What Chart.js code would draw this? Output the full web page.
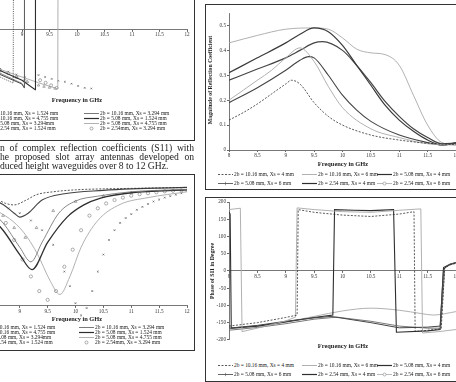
<!DOCTYPE html>
<html><head><meta charset="utf-8">
<script src="https://cdn.jsdelivr.net/npm/chart.js@4.4.0/dist/chart.umd.min.js"></script>
<style>
html,body{margin:0;padding:0;background:#fff;}
body{width:456px;height:382px;position:relative;overflow:hidden;font-family:"Liberation Serif","Times New Roman",serif;color:#222;}
.box{position:absolute;border:1.6px solid #333;box-sizing:border-box;}
canvas{position:absolute;}
.lg{position:absolute;white-space:nowrap;font-size:5.4px;line-height:6px;height:6px;display:flex;align-items:center;}
.lg svg{margin-right:1px;}
.xt{position:absolute;font-weight:bold;font-size:6.4px;white-space:nowrap;transform:translateX(-50%);}
.yt{position:absolute;font-weight:bold;font-size:5.8px;white-space:nowrap;transform:translate(-50%,-50%) rotate(-90deg);}
.cap{position:absolute;left:0;width:194px;font-size:9.6px;line-height:9px;text-align:justify;text-align-last:justify;white-space:nowrap;}
</style></head>
<body>
<div class="box" style="left:-6px;top:-6px;width:201px;height:147px"></div>
<div class="box" style="left:-6px;top:174px;width:201px;height:177px"></div>
<div class="box" style="left:205px;top:4px;width:262px;height:186px"></div>
<div class="box" style="left:205px;top:197px;width:262px;height:185px"></div>

<canvas id="tl" width="262" height="140" style="left:-60px;top:-40px"></canvas>
<canvas id="bl" width="262" height="160" style="left:-60px;top:178px"></canvas>
<canvas id="tr" width="264" height="160" style="left:206px;top:6px"></canvas>
<canvas id="br" width="264" height="148" style="left:206px;top:196px"></canvas>

<div class="xt" style="left:77px;top:96px">Frequency in GHz</div>
<div class="xt" style="left:77px;top:315px">Frequency in GHz</div>
<div class="xt" style="left:343px;top:160px">Frequency in GHz</div>
<div class="xt" style="left:343px;top:342px">Frequency in GHz</div>
<div class="yt" style="left:210px;top:80px">Magnitude of Reflection Coefficient</div>
<div class="yt" style="left:212px;top:271px">Phase of S11 in Degree</div>

<div class="cap" style="top:143px">n of complex reflection coefficients (S11) with</div>
<div class="cap" style="top:152px">he proposed slot array antennas developed on</div>
<div class="cap" style="top:161px;text-align:left;text-align-last:left">duced height waveguides over 8 to 12 GHz.</div>

<div id="legends"></div>

<script>
// ---------- DATA ----------
// Top-right: magnitude of reflection coefficient vs frequency (GHz)
const trLabels = ["2b = 10.16 mm, Xs = 4 mm","2b = 10.16 mm, Xs = 6 mm","2b = 5.08 mm, Xs = 4 mm","2b = 5.08 mm, Xs = 6 mm","2b = 2.54 mm, Xs = 4 mm","2b = 2.54 mm, Xs = 6 mm"];
const trF_1016_4 = [8,8.25,8.5,8.75,9,9.1,9.25,9.5,9.75,10,10.5,11,11.5,12];
const trV_1016_4 = [0.12,0.15,0.185,0.225,0.265,0.28,0.265,0.19,0.135,0.1,0.06,0.04,0.027,0.022];
const trF_1016_6 = [8,8.25,8.5,8.75,9,9.25,9.5,9.75,10,10.5,11,11.5,12];
const trV_1016_6 = [0.2,0.24,0.28,0.32,0.37,0.41,0.355,0.255,0.17,0.085,0.05,0.025,0.02];
const trF_508_4 = [8,8.5,9,9.25,9.4,9.5,9.75,10,10.25,10.5,11,11.5,11.75,12];
const trV_508_4 = [0.19,0.25,0.32,0.36,0.375,0.37,0.3,0.22,0.16,0.115,0.06,0.03,0.02,0.028];
const trF_508_6 = [8,8.5,9,9.25,9.5,9.75,10,10.25,10.5,10.75,11,11.25,11.5,11.75,12];
const trV_508_6 = [0.31,0.37,0.43,0.465,0.49,0.475,0.42,0.34,0.26,0.18,0.12,0.075,0.04,0.02,0.03];
const trF_254_4 = [8,8.5,9,9.25,9.5,9.65,10,10.25,10.5,10.75,11,11.25,11.5,11.75,12];
const trV_254_4 = [0.28,0.325,0.37,0.4,0.43,0.435,0.4,0.34,0.27,0.195,0.135,0.085,0.05,0.025,0.028];
const trF_254_6 = [8,8.5,9,9.5,9.75,10,10.25,10.5,10.75,11,11.25,11.5,11.75,12];
const trV_254_6 = [0.43,0.46,0.485,0.49,0.485,0.45,0.405,0.39,0.383,0.34,0.22,0.1,0.03,0.02];
const trYTicks = [0,0.1,0.2,0.3,0.4,0.5];

// Bottom-right: phase of S11 (degrees)
const brF_1016_4 = [8,8.5,9,9.2,9.22,9.5,10,10.5,11,11.26,11.28,11.5,11.74,11.8,11.9,12];
const brV_1016_4 = [-160,-150,-135,-128,178,170,162,158,165,172,-176,-172,-168,8,18,22];
const brF_1016_6 = [8,8.2,8.23,8.5,9,9.17,9.2,9.5,10,10.5,11,11.38,11.41,11.7,12];
const brV_1016_6 = [178,182,-176,-166,-145,-134,183,178,172,170,176,180,-180,-176,-170];
const brF_508_4 = [8,8.5,9,9.5,9.8,10.5,11,11.5,11.72,11.78,11.85,12];
const brV_508_4 = [-166,-158,-146,-136,-132,-150,-165,-163,-160,5,15,24];
const brF_508_6 = [8,8.5,9,9.5,9.9,10.5,11,11.5,11.73,11.8,11.9,12];
const brV_508_6 = [-172,-164,-153,-140,-134,-146,-160,-166,-166,8,20,25];
const brF_254_4 = [8,8.02,8.04,8.5,9,9.5,9.83,9.86,10.2,10.5,10.9,10.95,11.5,11.72,11.78,11.9,12];
const brV_254_4 = [170,165,-166,-160,-148,-135,-128,178,176,175,178,-178,-174,-170,10,20,24];
const brF_254_6 = [8,8.5,9,9.5,10,10.5,11,11.4,11.6,12];
const brV_254_6 = [-168,-160,-148,-132,-116,-108,-114,-124,-128,-118];
const brYTicks = [-200,-150,-100,-50,0,50,100,150,200];

// Bottom-left: |S11| (dB) for 8 configurations
const blLabels = ["2b = 10.16 mm, Xs = 1.524 mm","2b = 10.16 mm, Xs = 3.294 mm","2b = 10.16 mm, Xs = 4.755 mm","2b = 5.08 mm, Xs = 1.524 mm","2b = 5.08 mm, Xs = 3.294mm","2b = 5.08 mm, Xs = 4.755 mm","2b = 2.54 mm, Xs = 1.524 mm","2b = 2.54mm, Xs = 3.294 mm"];
const blF_1016_1524 = [8,8.3,8.6,8.75,8.9,9.1,9.3,9.6,10,10.5,11,12];
const blV_1016_1524 = [-1.5,-2.2,-3.2,-4.0,-4.3,-3.4,-2.2,-1.6,-1.2,-1.0,-0.9,-0.7];
const blF_1016_3294 = [8,8.4,8.7,9,9.2,9.4,9.7,10,10.4,11,12];
const blV_1016_3294 = [-3,-5,-8,-13,-16,-12,-6,-3.5,-2.5,-1.6,-1.1];
const blF_1016_4755 = [8,8.4,8.7,8.9,9,9.15,9.4,9.8,10.5,11,12];
const blV_1016_4755 = [-2,-2.8,-4.2,-6,-6.8,-6,-3.3,-2.0,-1.3,-1.0,-0.7];
const blF_508_1524 = [8,8.4,8.7,9,9.22,9.5,9.85,10.15,10.45,11,12];
const blV_508_1524 = [-4,-6,-9.5,-14.5,-17.6,-12,-6.8,-4.3,-2.9,-1.8,-1.2];
const blF_508_3294 = [8,8.4,8.7,8.9,9.1,9.3,9.6,10,10.5,11,12];
const blV_508_3294 = [-3,-4.5,-6.5,-9,-11,-9,-5.5,-3.6,-2.5,-1.8,-1.3];
const blF_508_4755 = [8,8.5,9,9.3,9.55,9.72,9.9,10.1,10.4,10.8,11.3,12];
const blV_508_4755 = [-3,-5,-9,-14,-20,-22.7,-19,-13,-7.5,-4.2,-2.8,-1.6];
const blF_254_1524 = [8.6,8.8,9,9.2,9.4,9.6,9.8,9.9,10,10.1,10.2,10.3,10.4,10.5,10.6,10.7,10.8,10.9,11,11.1,11.2,11.3,11.4,11.5,11.6,11.7,11.8,11.9];
const blV_254_1524 = [-3.5,-5,-6,-7.5,-9.5,-12.5,-18,-21,-24.5,-27,-25.5,-22,-18,-14.5,-11.5,-9.5,-8,-7,-6.2,-5.3,-4.7,-4.1,-3.6,-3.2,-2.8,-2.5,-2.2,-1.9];
const blF_254_3294 = [8.6,8.75,8.9,9.05,9.2,9.35,9.5,9.65,9.8,9.95,10.1,10.25,10.4,10.55,10.7,10.85,11,11.15,11.3,11.45,11.6,11.75,11.9];
const blV_254_3294 = [-5,-8,-11.5,-15.5,-19,-22,-23.8,-22,-17,-13.5,-9.5,-6.5,-5,-4,-3.3,-2.8,-2.4,-2.1,-1.9,-1.7,-1.5,-1.4,-1.3];

// Top-left: phase of S11 (degrees) for the same 8 configurations
const tlF_1016_1524 = [8,8.3,8.6,8.84,8.845,9.5,10.5,12];
const tlV_1016_1524 = [-110,-128,-150,-169,178,160,140,120];
const tlF_1016_3294 = [8,8.3,8.6,9.0,9.04,9.045,10,12];
const tlV_1016_3294 = [-100,-118,-138,-170,-182,178,150,125];
const tlF_1016_4755 = [8,8.3,8.6,9.0,9.04,9.045,10,12];
const tlV_1016_4755 = [-105,-122,-142,-172,-184,176,150,120];
const tlF_508_1524 = [8,8.3,8.6,9.0,9.24,9.245,10,12];
const tlV_508_1524 = [-95,-112,-130,-160,-190,175,150,125];
const tlF_508_3294 = [8,8.3,8.6,8.9,9.1,9.3,9.4,9.5,9.6];
const tlV_508_3294 = [-98,-115,-132,-150,-165,-176,-180,-183,-186];
const tlF_508_4755 = [8,8.3,8.6,9.0,9.3,9.65,9.655,10.5,12];
const tlV_508_4755 = [-90,-108,-126,-150,-168,-187,176,150,130];
const tlF_254_1524 = [8.6,8.75,8.9,9.05,9.3,9.42,9.54,9.66,9.78,9.9,10.02,10.14,10.26];
const tlV_254_1524 = [-125,-133,-142,-150,-144,-150,-156,-162,-165,-171,-178,-184,-186];
const tlF_254_3294 = [8.6,8.75,8.9,9.05,9.33,9.43,9.53,9.63];
const tlV_254_3294 = [-128,-138,-150,-162,-160,-168,-176,-184];

// ---------- DRAWING ----------
const FONT = "'Liberation Serif','Times New Roman',serif";
Chart.defaults.font.family = FONT;
Chart.defaults.color = '#333';

function pts(f, v){ return f.map((x,i)=>({x:x, y:v[i]})); }
function ds(label, f, v, st){
  return Object.assign({label, data: pts(f,v), borderColor:'#333', backgroundColor:'#fff', borderWidth:1,
    pointRadius:0, fill:false, tension:0}, st||{});
}
const DARK='#2e2e2e', MID='#6a6a6a', LIGHT='#a8a8a8';

function baseX(pos, show){
  return {type:'linear', min:8, max:12, position:pos,
    ticks:{stepSize:0.5, display:show, font:{size:5.2}, padding:1, maxRotation:0, autoSkip:false, color:'#333',
      callback:v=>String(v)},
    grid:{display:true, drawOnChartArea:false, drawTicks:true, tickLength:2, color:'#666'},
    border:{display:true, color:'#555', width:0.8}};
}
function mk(id, datasets, xopt, yopt, pad){
  return new Chart(document.getElementById(id), {
    type:'line', data:{datasets},
    options:{responsive:false, animation:false, devicePixelRatio:1,
      layout:{padding:pad},
      plugins:{legend:{display:false}, tooltip:{enabled:false}},
      scales:{x:xopt, y:yopt}}
  });
}

// Top-right
{
  const mono={cubicInterpolationMode:'monotone'};
  const d=[
    ds(trLabels[0], trF_1016_4, trV_1016_4, Object.assign({borderColor:DARK, borderDash:[2,1.5], borderWidth:0.8},mono)),
    ds(trLabels[1], trF_1016_6, trV_1016_6, Object.assign({borderColor:LIGHT, borderWidth:0.9},mono)),
    ds(trLabels[2], trF_508_4, trV_508_4, Object.assign({borderColor:'#444', borderWidth:1.1},mono)),
    ds(trLabels[3], trF_508_6, trV_508_6, Object.assign({borderColor:'#3a3a3a', borderWidth:1.2},mono)),
    ds(trLabels[4], trF_254_4, trV_254_4, Object.assign({borderColor:'#444', borderWidth:1.2},mono)),
    ds(trLabels[5], trF_254_6, trV_254_6, Object.assign({borderColor:LIGHT, borderWidth:0.9},mono)),
  ];
  const x=baseX('bottom', true);
  x.afterFit=s=>{s.height=16;};
  const y={type:'linear', min:0, max:0.55, position:'left',
    ticks:{stepSize:0.1, font:{size:5.2}, padding:1, color:'#333',
      callback:v=>trYTicks.some(t=>Math.abs(t-v)<1e-6)? String(Math.round(v*10)/10) : null},
    grid:{display:true, drawOnChartArea:false, drawTicks:true, tickLength:2, color:'#666'},
    border:{display:true, color:'#555', width:0.8},
    afterFit:s=>{s.width=23;}};
  mk('tr', d, x, y, {left:0, right:14, top:7, bottom:0});
}
// Bottom-right
{
  const d=[
    ds(trLabels[0], brF_1016_4, brV_1016_4, {borderColor:DARK, borderDash:[2,1.5], borderWidth:0.8}),
    ds(trLabels[1], brF_1016_6, brV_1016_6, {borderColor:LIGHT, borderWidth:0.9}),
    ds(trLabels[2], brF_508_4, brV_508_4, {borderColor:'#444', borderWidth:1}),
    ds(trLabels[3], brF_508_6, brV_508_6, {borderColor:MID, borderWidth:0.9}),
    ds(trLabels[4], brF_254_4, brV_254_4, {borderColor:DARK, borderWidth:1.1}),
    ds(trLabels[5], brF_254_6, brV_254_6, {borderColor:LIGHT, borderWidth:0.9, cubicInterpolationMode:'monotone'}),
  ];
  const x=baseX({y:0}, true);
  const y={type:'linear', min:-200, max:200, position:'left',
    ticks:{stepSize:50, font:{size:5.2}, padding:1, color:'#333',
      callback:v=>brYTicks.includes(v)? String(v):null},
    grid:{display:true, drawOnChartArea:false, drawTicks:true, tickLength:2, color:'#666'},
    border:{display:true, color:'#555', width:0.8},
    afterFit:s=>{s.width=23;}};
  mk('br', d, x, y, {left:0, right:14, top:6, bottom:4});
}
// Bottom-left
{
  const mono={cubicInterpolationMode:'monotone'};
  const d=[
    ds(blLabels[0], blF_1016_1524, blV_1016_1524, Object.assign({borderColor:DARK, borderDash:[2,1.5], borderWidth:0.8},mono)),
    ds(blLabels[1], blF_1016_3294, blV_1016_3294, Object.assign({borderColor:MID, borderWidth:0.8},mono)),
    ds(blLabels[2], blF_1016_4755, blV_1016_4755, Object.assign({borderColor:'#444', borderWidth:1.1},mono)),
    ds(blLabels[3], blF_508_1524, blV_508_1524, Object.assign({borderColor:DARK, borderWidth:1.3},mono)),
    ds(blLabels[4], blF_508_3294, blV_508_3294, Object.assign({borderColor:'transparent', pointRadius:1.6, pointStyle:'triangle', pointBorderColor:'#777', pointBorderWidth:0.6},mono)),
    ds(blLabels[5], blF_508_4755, blV_508_4755, Object.assign({borderColor:LIGHT, borderWidth:0.9},mono)),
    ds(blLabels[6], blF_254_1524, blV_254_1524, {showLine:false, pointRadius:1.2, pointStyle:'crossRot', pointBorderColor:'#444', pointBorderWidth:0.6}),
    ds(blLabels[7], blF_254_3294, blV_254_3294, {showLine:false, pointRadius:1.6, pointStyle:'circle', pointBorderColor:'#777', pointBackgroundColor:'rgba(0,0,0,0)', pointBorderWidth:0.6}),
  ];
  const x=baseX({y:-25}, true);
  const y={type:'linear', min:-30, max:0, display:false};
  mk('bl', d, x, y, {left:24, right:15, top:6, bottom:8});
}
// Top-left
{
  const d=[
    ds(blLabels[0], tlF_1016_1524, tlV_1016_1524, {borderColor:DARK, borderDash:[1,1.2], borderWidth:0.8}),
    ds(blLabels[1], tlF_1016_3294, tlV_1016_3294, {borderColor:MID, borderWidth:0.8}),
    ds(blLabels[2], tlF_1016_4755, tlV_1016_4755, {borderColor:'#444', borderWidth:1}),
    ds(blLabels[3], tlF_508_1524, tlV_508_1524, {borderColor:DARK, borderWidth:1.1}),
    ds(blLabels[4], tlF_508_3294, tlV_508_3294, {showLine:false, pointRadius:1.4, pointStyle:'triangle', pointBorderColor:'#777', pointBorderWidth:0.6}),
    ds(blLabels[5], tlF_508_4755, tlV_508_4755, {borderColor:LIGHT, borderWidth:0.9}),
    ds(blLabels[6], tlF_254_1524, tlV_254_1524, {showLine:false, pointRadius:1.1, pointStyle:'crossRot', pointBorderColor:'#444', pointBorderWidth:0.6}),
    ds(blLabels[7], tlF_254_3294, tlV_254_3294, {showLine:false, pointRadius:1.5, pointStyle:'circle', pointBorderColor:'#777', pointBackgroundColor:'rgba(0,0,0,0)', pointBorderWidth:0.6}),
  ];
  const x=baseX({y:0}, true);
  const y={type:'linear', min:-200, max:200, display:false};
  mk('tl', d, x, y, {left:27, right:15, top:5, bottom:7});
}

// ---------- LEGENDS (HTML text) ----------
function sample(kind){
  const w=15;
  let s='<svg width="'+w+'" height="5" viewBox="0 0 '+w+' 5">';
  const ln=(c,sw,dash)=>'<line x1="0" y1="2.5" x2="'+w+'" y2="2.5" stroke="'+c+'" stroke-width="'+sw+'"'+(dash?' stroke-dasharray="'+dash+'"':'')+'/>';
  if(kind==='dash') s+=ln(DARK,0.8,'2,1.5');
  else if(kind==='dot') s+=ln(DARK,0.8,'1,1.2');
  else if(kind==='light') s+=ln(LIGHT,0.9);
  else if(kind==='dark') s+=ln(DARK,1.2);
  else if(kind==='mid') s+=ln(MID,0.9);
  else if(kind==='darkplus') s+=ln('#555',0.9)+'<line x1="7.5" y1="0.8" x2="7.5" y2="4.2" stroke="#555" stroke-width="0.6"/>';
  else if(kind==='lightcirc') s+=ln(LIGHT,0.8)+'<circle cx="7.5" cy="2.5" r="1.5" fill="#fff" stroke="#888" stroke-width="0.6"/>';
  else if(kind==='circ') s+='<circle cx="7.5" cy="2.5" r="1.5" fill="#fff" stroke="#777" stroke-width="0.6"/>';
  else if(kind==='tri') s+='<polygon points="7.5,1 9.2,4 5.8,4" fill="#fff" stroke="#777" stroke-width="0.6"/>';
  else if(kind==='x') s+='<path d="M6.3 1.3L8.7 3.7M8.7 1.3L6.3 3.7" stroke="#444" stroke-width="0.6"/>';
  return s+'</svg>';
}
const legendItems = [
  // top-right
  [218,171,'dash',trLabels[0]],[302,171,'light',trLabels[1]],[377,171,'dark',trLabels[2]],
  [218,180,'darkplus',trLabels[3]],[302,180,'dark',trLabels[4]],[377,180,'lightcirc',trLabels[5]],
  // bottom-right
  [218,362,'dash',trLabels[0]],[302,362,'light',trLabels[1]],[377,362,'dark',trLabels[2]],
  [218,371,'darkplus',trLabels[3]],[302,371,'dark',trLabels[4]],[377,371,'lightcirc',trLabels[5]],
  // top-left
  [-27,110,'dot',blLabels[0]],[84,110,'mid',blLabels[1]],
  [-27,115,'dark',blLabels[2]],[84,115,'dark',blLabels[3]],
  [-27,120,'tri',blLabels[4]],[84,120,'light',blLabels[5]],
  [-27,125,'x',blLabels[6]],[84,125,'circ',blLabels[7]],
  // bottom-left
  [-30,324,'dash',blLabels[0]],[79,324,'mid',blLabels[1]],
  [-30,329,'dark',blLabels[2]],[79,329,'dark',blLabels[3]],
  [-30,334,'tri',blLabels[4]],[79,334,'light',blLabels[5]],
  [-30,339,'x',blLabels[6]],[79,339,'circ',blLabels[7]],
];
const L=document.getElementById('legends');
legendItems.forEach(([x,y,k,t])=>{
  const d=document.createElement('div'); d.className='lg';
  d.style.left=x+'px'; d.style.top=y+'px';
  d.innerHTML=sample(k)+'<span>'+t+'</span>';
  L.appendChild(d);
});
</script>
</body></html>
